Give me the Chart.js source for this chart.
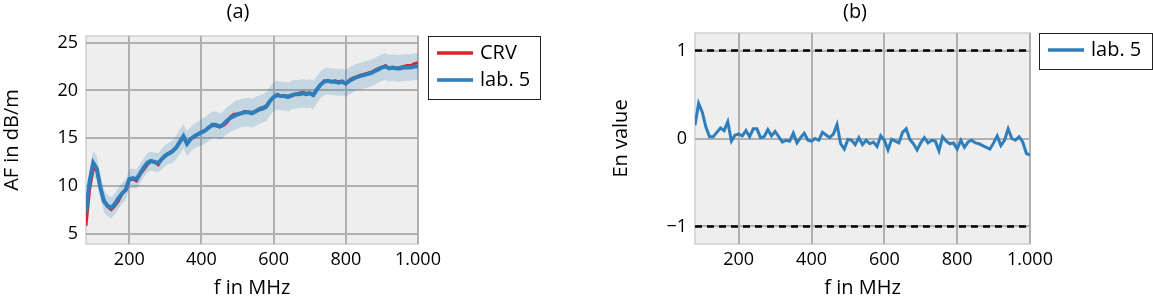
<!DOCTYPE html>
<html><head><meta charset="utf-8">
<script src="https://cdn.jsdelivr.net/npm/chart.js@4/dist/chart.umd.min.js"></script>
<style>
html,body{margin:0;padding:0;background:#fff;width:1153px;height:300px;overflow:hidden}
#w1{position:absolute;left:0;top:0;width:576px;height:300px}
#w2{position:absolute;left:576px;top:0;width:577px;height:300px}
</style></head><body>
<div id="w1"><canvas id="c1"></canvas></div>
<div id="w2"><canvas id="c2"></canvas></div>
<script>
// ---- data ----
const freq = [80,90,100,110,120,130,140,150,160,170,180,190,200,210,220,230,240,250,260,270,280,290,300,310,320,330,340,350,360,370,380,390,400,410,420,430,440,450,460,470,480,490,500,510,520,530,540,550,560,570,580,590,600,610,620,630,640,650,660,670,680,690,700,710,720,730,740,750,760,770,780,790,800,810,820,830,840,850,860,870,880,890,900,910,920,930,940,950,960,970,980,990,1000];
const afLab5 = [7.2,10.5,12.4,11.8,9.8,8.4,7.9,7.7,8.1,8.7,9.2,9.6,10.7,10.8,10.7,11.3,11.9,12.4,12.6,12.5,12.4,12.8,13.2,13.4,13.6,14.0,14.6,15.2,14.4,14.9,15.2,15.4,15.6,15.8,16.1,16.4,16.4,16.2,16.4,16.8,17.1,17.3,17.5,17.6,17.7,17.7,17.6,17.8,18.0,18.1,18.3,18.9,19.3,19.5,19.4,19.4,19.3,19.5,19.6,19.6,19.7,19.6,19.7,19.5,20.1,20.6,20.9,21.0,20.9,20.9,20.8,20.9,20.7,21.0,21.2,21.4,21.5,21.6,21.7,21.8,22.0,22.2,22.4,22.5,22.3,22.4,22.3,22.3,22.4,22.4,22.4,22.5,22.5];
const afCRV = [5.8,9.6,11.8,11.6,9.7,8.3,7.8,7.5,7.9,8.4,9.2,9.5,10.6,10.7,10.5,11.2,11.7,12.2,12.6,12.5,12.2,12.8,13.1,13.4,13.7,14.0,14.6,15.1,14.5,14.9,15.1,15.4,15.6,15.8,16.1,16.3,16.3,16.2,16.3,16.6,17.2,17.5,17.5,17.6,17.8,17.7,17.7,17.8,18.1,18.2,18.4,18.9,19.3,19.6,19.4,19.4,19.4,19.4,19.6,19.7,19.8,19.7,19.7,19.6,20.1,20.6,21.0,21.0,20.9,21.0,20.9,21.0,20.7,21.1,21.3,21.4,21.6,21.7,21.8,21.9,22.1,22.3,22.4,22.6,22.3,22.4,22.3,22.4,22.5,22.6,22.6,22.8,22.9];
const afUncLab5 = [1.2,1.2,1.3,1.3,1.2,1.2,1.1,1.1,1.1,1.1,1.1,1.1,1.0,1.0,1.0,1.0,1.0,1.0,1.0,1.0,1.0,1.1,1.1,1.1,1.2,1.2,1.3,1.3,1.3,1.3,1.3,1.3,1.4,1.4,1.4,1.4,1.4,1.4,1.4,1.4,1.4,1.5,1.5,1.5,1.5,1.5,1.5,1.5,1.5,1.5,1.5,1.5,1.5,1.5,1.5,1.5,1.5,1.5,1.5,1.5,1.5,1.5,1.5,1.5,1.4,1.4,1.4,1.4,1.4,1.4,1.4,1.4,1.4,1.4,1.4,1.4,1.4,1.4,1.4,1.4,1.4,1.4,1.4,1.4,1.4,1.4,1.4,1.4,1.4,1.4,1.4,1.4,1.4];
const enLab5 = [0.15,0.40,0.30,0.13,0.02,0.02,0.07,0.12,0.09,0.19,-0.03,0.04,0.05,0.03,0.09,0.02,0.11,0.11,0.01,0.02,0.10,0.03,0.08,0.02,-0.04,-0.02,-0.03,0.06,-0.05,0.01,0.06,-0.02,-0.03,0.00,-0.02,0.07,0.04,0.01,0.05,0.16,-0.06,-0.12,-0.01,-0.02,-0.07,0.01,-0.07,-0.02,-0.06,-0.04,-0.09,0.03,-0.02,-0.13,-0.01,-0.03,-0.05,0.07,0.11,-0.01,-0.06,-0.13,-0.05,0.01,-0.05,-0.02,-0.03,-0.14,0.02,-0.03,-0.06,-0.05,-0.12,-0.02,-0.10,-0.04,-0.02,-0.05,-0.06,-0.08,-0.10,-0.12,-0.05,0.03,-0.08,-0.02,0.11,0.00,-0.02,0.02,-0.04,-0.17,-0.19];
const enLimits = [1, -1];
const xRange = [80, 1000];
const xTicks = [200, 400, 600, 800, 1000];
const xTickLabels = ['200', '400', '600', '800', '1.000'];
const afRange = [3.9, 25.7];
const afTicks = [5, 10, 15, 20, 25];
const afTickLabels = ['5', '10', '15', '20', '25'];
const enRange = [-1.2, 1.2];
const enTicks = [-1, 0, 1];
const enTickLabels = ['\u22121', '0', '1'];

// ---- styling ----
const FONT = "'Open Sans', 'Liberation Sans', sans-serif";
const FS = 18;      // tick labels
const FT = 20;      // titles and legend
const BLUE = '#2f7ebc';
const RED = '#d62728';
const BAND = 'rgba(31,119,180,0.2)';
const GRID = '#b0b0b0';
Chart.defaults.font.family = FONT;
Chart.defaults.font.size = FS;
Chart.defaults.color = '#000';

const pts = (xs, ys) => xs.map((x, i) => ({x, y: ys[i]}));

const panelPlugin = {
  id: 'panel',
  beforeDraw(chart) {
    const {ctx, chartArea: a} = chart;
    ctx.save();
    ctx.fillStyle = '#eeeeee';
    ctx.fillRect(a.left, a.top, a.right - a.left, a.bottom - a.top);
    ctx.strokeStyle = '#cfcfcf';
    ctx.lineWidth = 1.5;
    ctx.strokeRect(a.left, a.top, a.right - a.left, a.bottom - a.top);
    ctx.restore();
  },
  afterDraw(chart, args, opts) {
    const {ctx, chartArea: a} = chart;
    ctx.save();
    ctx.font = FT + 'px ' + FONT;
    ctx.fillStyle = '#000';
    ctx.textAlign = 'center';
    ctx.textBaseline = 'middle';
    ctx.fillText(opts.title, opts.titleX, 12);
    const items = chart.data.datasets.filter(d => d.inLegend);
    items.sort((p, q) => p.legendOrder - q.legendOrder);
    const bx = a.right + opts.legendGap, by = a.top;
    const rowH = 27;
    const bh = items.length * rowH + 9, bw = opts.legendW;
    ctx.fillStyle = '#fff';
    ctx.fillRect(bx, by, bw, bh);
    ctx.strokeStyle = '#222';
    ctx.lineWidth = 1;
    ctx.strokeRect(bx + 0.5, by + 0.5, bw, bh);
    items.forEach((d, i) => {
      const y = by + 17 + i * rowH;
      ctx.strokeStyle = d.borderColor;
      ctx.lineWidth = 3.5;
      ctx.beginPath();
      ctx.moveTo(bx + 9, y);
      ctx.lineTo(bx + 45, y);
      ctx.stroke();
      ctx.fillStyle = '#000';
      ctx.textAlign = 'left';
      ctx.fillText(d.label, bx + 52, y);
    });
    ctx.restore();
  }
};

function xScale() {
  return {
    type: 'linear', min: xRange[0], max: xRange[1],
    afterBuildTicks: s => { s.ticks = xTicks.map(v => ({value: v})); },
    afterFit: s => { s.height = 56; },
    ticks: { callback: v => xTickLabels[xTicks.indexOf(v)], padding: 5, maxRotation: 0, autoSkip: false, color: '#000' },
    grid: { color: GRID, lineWidth: 2, drawTicks: false },
    border: { display: false },
    title: { display: true, text: 'f in MHz', padding: 0, color: '#000', font: { size: FT } }
  };
}
function yScale(range, ticks, labels, title, width) {
  return {
    type: 'linear', min: range[0], max: range[1],
    afterBuildTicks: s => { s.ticks = ticks.map(v => ({value: v})); },
    afterFit: s => { s.width = width; },
    ticks: { callback: v => labels[ticks.indexOf(v)], padding: 8, autoSkip: false, color: '#000' },
    grid: { color: GRID, lineWidth: 2, drawTicks: false },
    border: { display: false },
    title: { display: true, text: title, padding: 0, color: '#000', font: { size: FT } }
  };
}

new Chart(document.getElementById('c1'), {
  type: 'line',
  data: {
    datasets: [
      { label: 'lab. 5', data: pts(freq, afLab5), borderColor: BLUE, borderWidth: 4, pointRadius: 0, tension: 0, inLegend: true, legendOrder: 2 },
      { label: 'CRV', data: pts(freq, afCRV), borderColor: RED, borderWidth: 3, pointRadius: 0, tension: 0, inLegend: true, legendOrder: 1 },
      { label: 'upper', data: pts(freq, afLab5.map((v, i) => v + afUncLab5[i])), borderWidth: 0, borderColor: 'rgba(0,0,0,0)', backgroundColor: BAND, pointRadius: 0, tension: 0, fill: '+1' },
      { label: 'lower', data: pts(freq, afLab5.map((v, i) => v - afUncLab5[i])), borderWidth: 0, borderColor: 'rgba(0,0,0,0)', pointRadius: 0, tension: 0, fill: false }
    ]
  },
  options: {
    responsive: true, maintainAspectRatio: false, animation: false,
    layout: { padding: { left: 0, top: 36, right: 158, bottom: 0 } },
    plugins: { legend: { display: false }, tooltip: { enabled: false },
      panel: { title: '(a)', titleX: 238, legendGap: 10, legendW: 112 } },
    scales: { x: xScale(), y: yScale(afRange, afTicks, afTickLabels, 'AF in dB/m', 86) }
  },
  plugins: [panelPlugin]
});

new Chart(document.getElementById('c2'), {
  type: 'line',
  data: {
    datasets: [
      { label: 'lab. 5', data: pts(freq, enLab5), borderColor: BLUE, borderWidth: 3, pointRadius: 0, tension: 0, inLegend: true, legendOrder: 1 },
      { label: 'limit +1', data: pts(xRange, [enLimits[0], enLimits[0]]), borderColor: '#000', borderWidth: 2.5, borderDash: [7, 5], pointRadius: 0 },
      { label: 'limit -1', data: pts(xRange, [enLimits[1], enLimits[1]]), borderColor: '#000', borderWidth: 2.5, borderDash: [7, 5], pointRadius: 0 }
    ]
  },
  options: {
    responsive: true, maintainAspectRatio: false, animation: false,
    layout: { padding: { left: 33, top: 33, right: 123, bottom: 0 } },
    plugins: { legend: { display: false }, tooltip: { enabled: false },
      panel: { title: '(b)', titleX: 279, legendGap: 9, legendW: 113 } },
    scales: { x: xScale(), y: yScale(enRange, enTicks, enTickLabels, 'En value', 86) }
  },
  plugins: [panelPlugin]
});
</script>
</body></html>
